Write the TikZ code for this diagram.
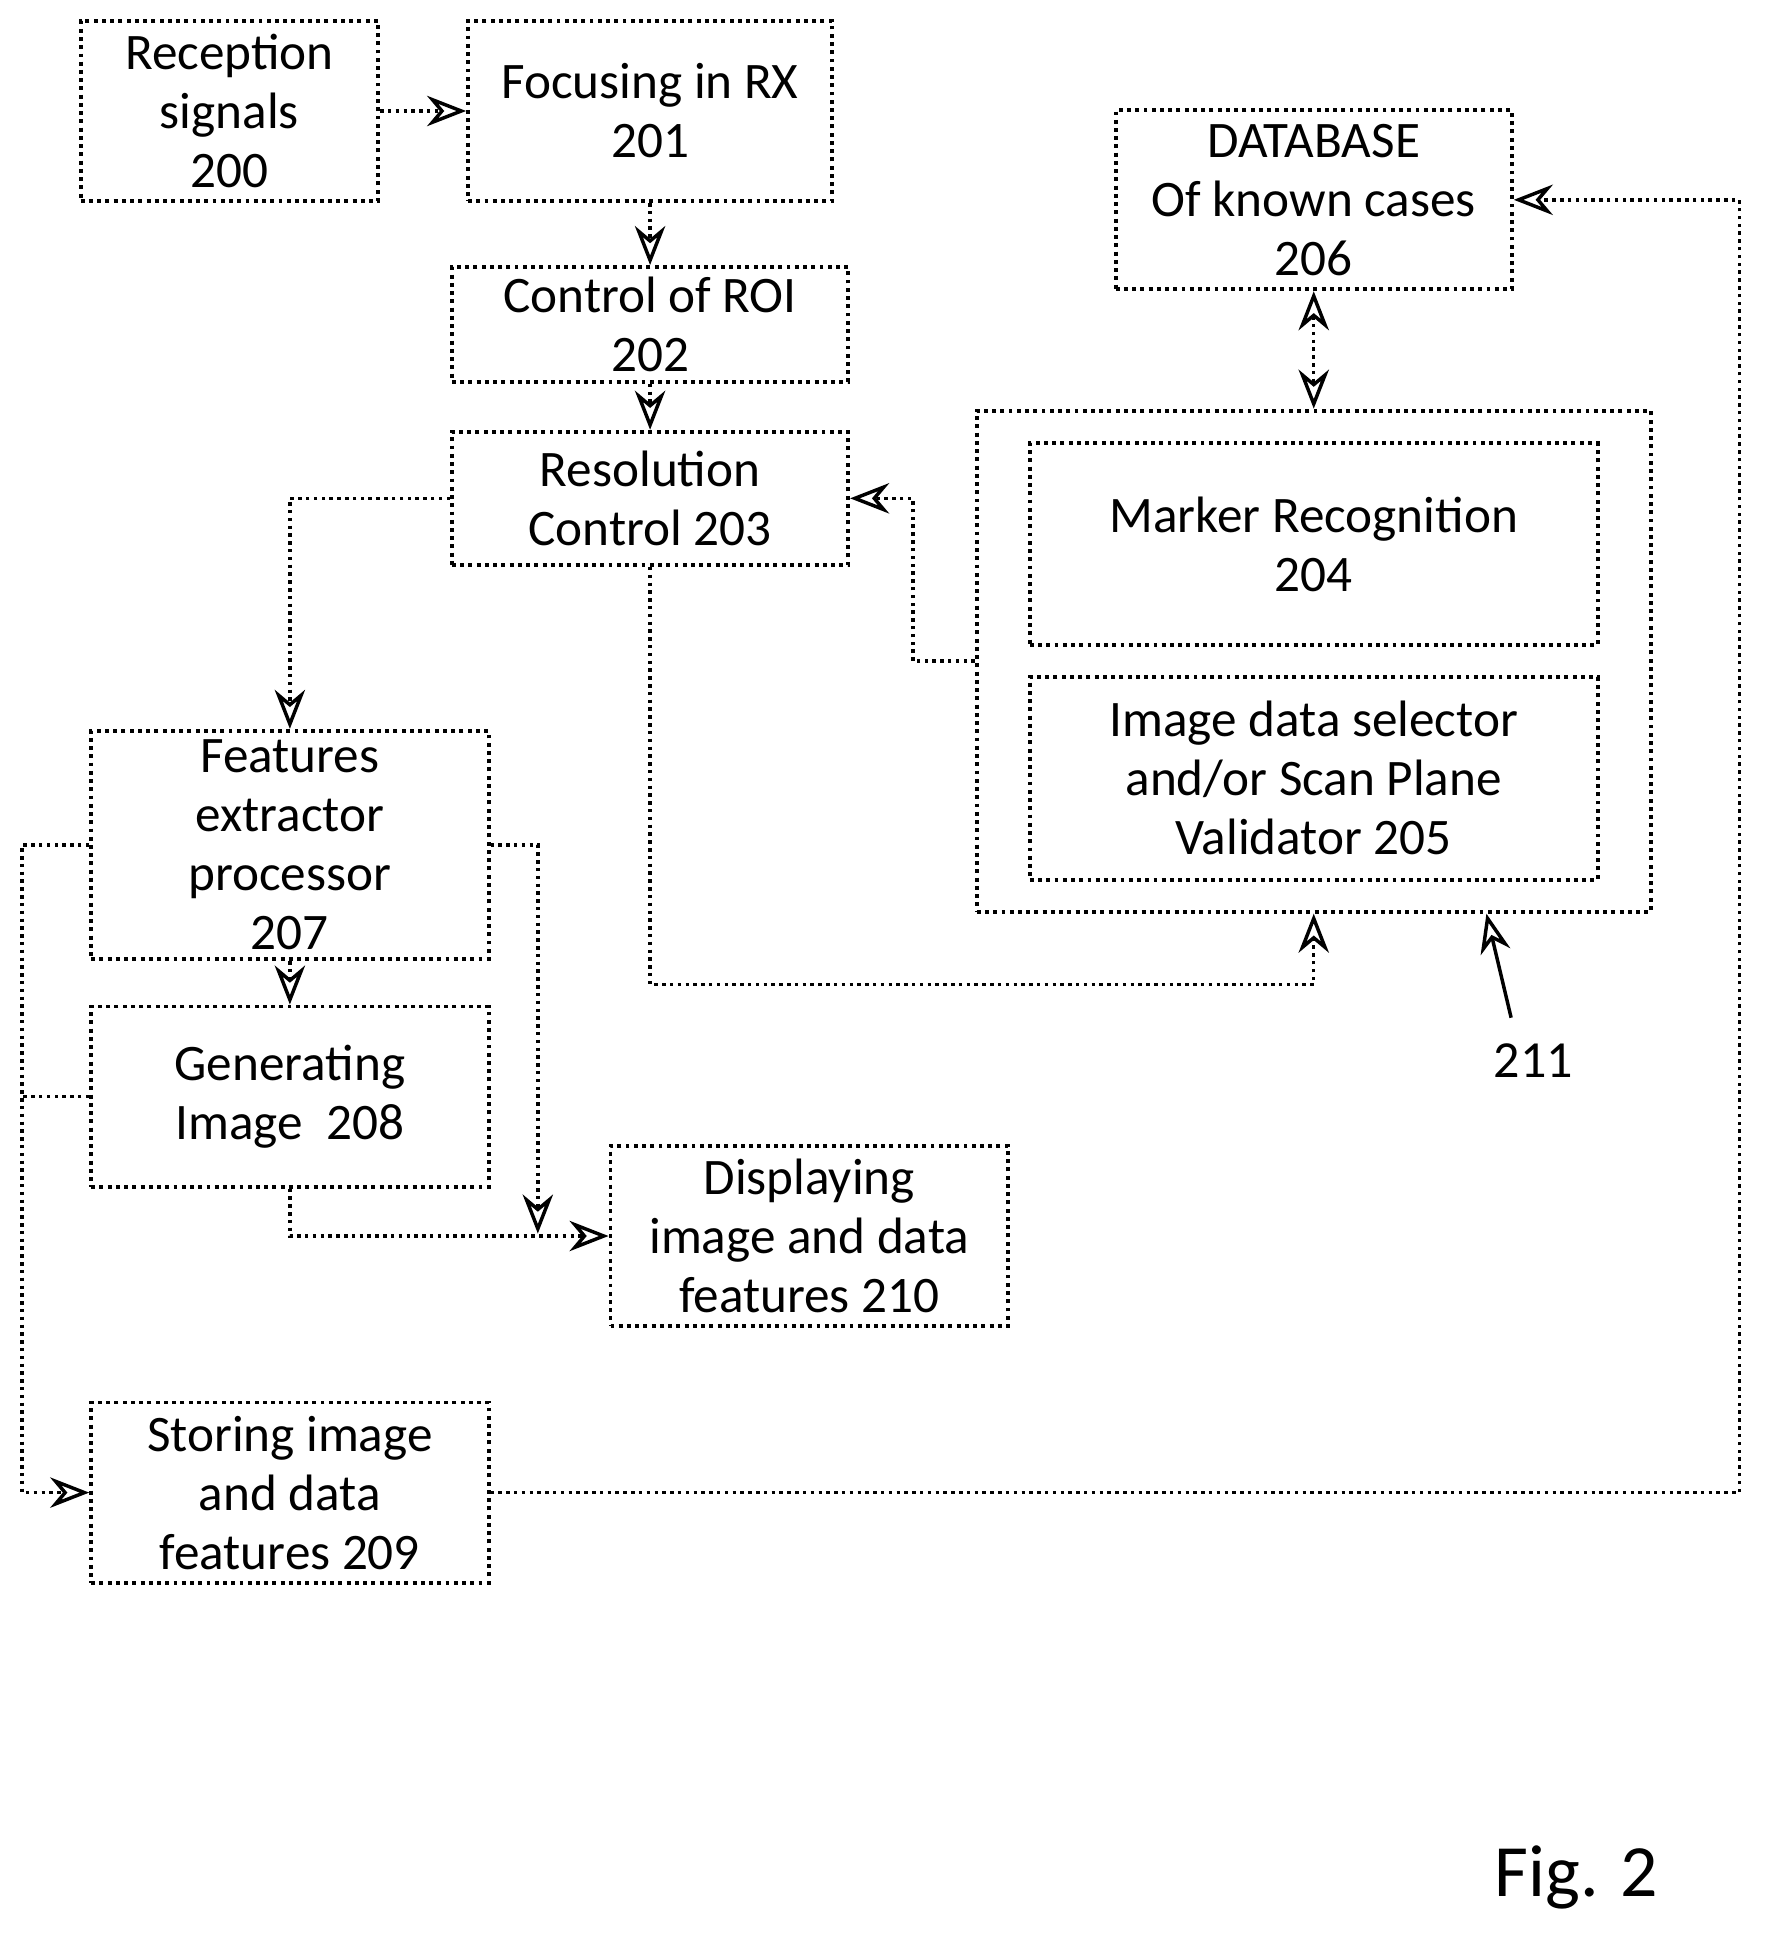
\documentclass[tikz,border=0pt]{standalone}
\usepackage{fontspec}
\setmainfont{Carlito}
\usetikzlibrary{arrows.meta}

\begin{document}
\begin{tikzpicture}[x=0.01cm,y=-0.01cm,
  blk/.style={shape=rectangle,draw=black,densely dotted,line width=0.9pt,align=center,inner sep=0,
    font=\fontsize{11.8}{13.6}\selectfont},
  lnk/.style={draw=black,densely dotted,line width=0.8pt},
  arr/.style={lnk,-{Stealth[length=9pt,width=7pt,open]}},
  darr/.style={lnk,{Stealth[length=9pt,width=7pt,open]}-{Stealth[length=9pt,width=7pt,open]}}]
		\useasboundingbox (0,0) rectangle (1440,1580);
		\node[blk,minimum width=2.41cm,minimum height=1.46cm] (rec) at (186,90){Reception\\signals\\200};
		\node[blk,minimum width=2.95cm,minimum height=1.46cm] (foc) at (527,90){Focusing in RX\\201};
		\node[blk,minimum width=3.21cm,minimum height=0.93cm] (roi) at (527,263){Control of ROI\\202};
		\node[blk,minimum width=3.21cm,minimum height=1.08cm] (res) at (527,404){Resolution\\Control 203};
		\node[blk,minimum width=3.21cm,minimum height=1.45cm] (db) at (1065,162){DATABASE\\Of known cases\\206};
		\node[blk,minimum width=5.46cm,minimum height=4.06cm] (grp) at (1065,536){};
		\node[blk,minimum width=4.60cm,minimum height=1.63cm] (mark) at (1065,441){Marker Recognition\\204};
		\node[blk,minimum width=4.60cm,minimum height=1.64cm] (sel) at (1065,631){Image data selector\\and/or Scan Plane\\Validator 205};
		\node[blk,minimum width=3.22cm,minimum height=1.85cm] (feat) at (235,685){Features\\extractor\\processor\\207};
		\node[blk,minimum width=3.22cm,minimum height=1.46cm] (gen) at (235,889){Generating\\Image~~208};
		\node[blk,minimum width=3.22cm,minimum height=1.46cm] (disp) at (656,1002){Displaying\\image and data\\features 210};
		\node[blk,minimum width=3.22cm,minimum height=1.46cm] (store) at (235,1210){Storing image\\and data\\features 209};
		\node[font=\fontsize{12}{12}\selectfont] (lbl) at (1243,860){211};
		\node[font=\fontsize{17}{17}\selectfont] (fig) at (1278,1522){Fig. 2};
		\coordinate (jn) at (436,1000);
		
		%main chain
		\draw[arr] (rec) -- (foc);
		\draw[arr] (foc) -- (roi);
		\draw[arr] (roi) -- (res);
		\draw[arr] (res.west) -| (feat.north);
		\draw[arr] (res.south) -- (527,798) -| (grp.south);
		\draw[arr] (grp.west) -- (740,536) |- (res.east);
		\draw[darr] (db.south) -- (grp.north);
		\draw[arr] (feat) -- (gen);
		\draw[arr] (feat.east) -| (jn);
		\draw[arr] (gen.south) |- (disp.west);
		\draw[arr] (feat.west) -- (18,685) |- (store.west);
		\draw[lnk] (gen.west) -- (18,889);
		\draw[arr] (store.east) -- (1410,1210) |- (db.east);
		\draw[-{Stealth[length=9pt,width=7pt,open]},line width=0.8pt] (1225,825) -- (grp.south -| 1205,0);
\end{tikzpicture}
\end{document}
